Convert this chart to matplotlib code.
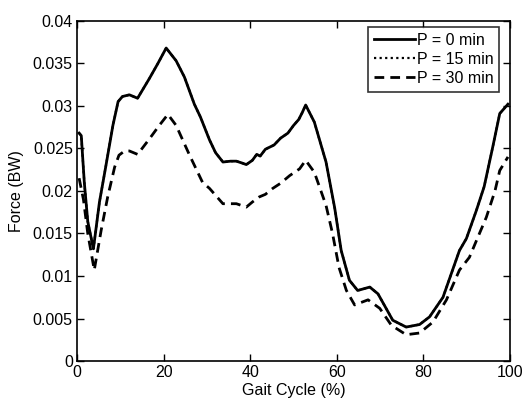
import matplotlib
matplotlib.use("Agg")
import matplotlib.pyplot as plt

plt.rcParams['font.family'] = ['Liberation Sans', 'DejaVu Sans']

# Gait cycle (%) sample points and force (BW) for each pause duration
gait_0 = [0.5, 1.0, 1.7, 2.5, 3.8, 5.2, 6.7, 8.3, 9.5, 10.5, 12.1, 14.0, 16.7,
          18.7, 20.6, 22.9, 24.8, 27.1, 28.5, 30.6, 32.0, 33.7, 35.5, 36.8,
          38.0, 39.1, 40.5, 41.5, 42.3, 43.5, 45.5, 47.0, 48.7, 50.0, 51.2,
          52.0, 52.8, 54.8, 57.5, 59.5, 61.0, 62.9, 64.8, 67.6, 69.5, 72.9,
          76.0, 79.1, 81.4, 84.5, 88.3, 89.9, 92.2, 94.0, 96.0, 97.6, 99.5]
force_0 = [0.0268, 0.0265, 0.0210, 0.0164, 0.0132, 0.0187, 0.0230, 0.0277,
           0.0305, 0.0311, 0.0313, 0.0309, 0.0332, 0.0350, 0.0368, 0.0353,
           0.0334, 0.0302, 0.0287, 0.0260, 0.0245, 0.0234, 0.0235, 0.0235,
           0.0233, 0.0231, 0.0236, 0.0243, 0.0241, 0.0249, 0.0254, 0.0262,
           0.0268, 0.0277, 0.0284, 0.0292, 0.0301, 0.0281, 0.0234, 0.0180,
           0.0130, 0.0095, 0.0083, 0.0087, 0.0079, 0.0048, 0.0040, 0.0043,
           0.0052, 0.0075, 0.0130, 0.0144, 0.0177, 0.0205, 0.0252, 0.0291,
           0.0302]

gait_15 = gait_0
force_15 = [0.0268, 0.0265, 0.0210, 0.0164, 0.0132, 0.0187, 0.0230, 0.0277,
            0.0305, 0.0311, 0.0313, 0.0309, 0.0332, 0.0350, 0.0368, 0.0353,
            0.0334, 0.0302, 0.0287, 0.0260, 0.0245, 0.0234, 0.0235, 0.0235,
            0.0233, 0.0231, 0.0236, 0.0243, 0.0241, 0.0249, 0.0254, 0.0262,
            0.0268, 0.0277, 0.0284, 0.0292, 0.0301, 0.0281, 0.0234, 0.0180,
            0.0130, 0.0095, 0.0083, 0.0087, 0.0079, 0.0048, 0.0040, 0.0043,
            0.0052, 0.0075, 0.0130, 0.0144, 0.0177, 0.0205, 0.0252, 0.0291,
            0.0302]

gait_30 = [0.5, 1.5, 2.5, 4.0, 5.6, 7.1, 8.7, 9.7, 11.0, 12.1, 14.0, 16.7,
           19.0, 21.0, 22.9, 26.0, 29.0, 30.6, 33.7, 36.8, 39.1, 40.5, 42.1,
           43.5, 45.2, 47.0, 49.1, 51.4, 52.8, 54.8, 57.5, 59.0, 60.5, 62.2,
           64.1, 67.2, 69.9, 72.6, 76.0, 79.1, 82.2, 85.3, 88.3, 90.6, 92.5,
           94.5, 96.5, 97.6, 99.5]
force_30 = [0.0215, 0.0190, 0.0150, 0.0107, 0.0154, 0.0193, 0.0228, 0.0242,
            0.0247, 0.0247, 0.0243, 0.0261, 0.0277, 0.0290, 0.0277, 0.0242,
            0.0210, 0.0203, 0.0185, 0.0185, 0.0181, 0.0187, 0.0193, 0.0196,
            0.0203, 0.0209, 0.0218, 0.0226, 0.0236, 0.0222, 0.0183, 0.0150,
            0.0110, 0.0083, 0.0066, 0.0072, 0.0062, 0.0042, 0.0031, 0.0033,
            0.0046, 0.0072, 0.0107, 0.0122, 0.0145, 0.0169, 0.0200, 0.0224,
            0.0240]

labels = ["P = 0 min", "P = 15 min", "P = 30 min"]
x_ticks = [0, 20, 40, 60, 80, 100]
y_ticks = [0, 0.005, 0.01, 0.015, 0.02, 0.025, 0.03, 0.035, 0.04]
y_tick_labels = ["0", "0.005", "0.01", "0.015", "0.02", "0.025", "0.03",
                 "0.035", "0.04"]

fig = plt.figure(figsize=(5.27, 4.08), dpi=100)
ax = fig.add_axes([0.146, 0.115, 0.822, 0.834])

l15, = ax.plot(gait_15, force_15, color='black', lw=1.6, linestyle=(0, (1, 1.5)),
               label=labels[1], zorder=2)
l0, = ax.plot(gait_0, force_0, color='black', lw=2.0, linestyle='-',
              label=labels[0], zorder=3)
l30, = ax.plot(gait_30, force_30, color='black', lw=2.0, linestyle=(0, (3.5, 2.2)),
               label=labels[2], zorder=3)

ax.set_xlim(0, 100)
ax.set_ylim(0, 0.04)
ax.set_xticks(x_ticks)
ax.set_yticks(y_ticks)
ax.set_yticklabels(y_tick_labels)
ax.tick_params(direction='in', length=5, width=1, top=True, right=True,
               labelsize=11.5, pad=3)
for s in ax.spines.values():
    s.set_linewidth(1.2)

ax.set_xlabel("Gait Cycle (%)", fontsize=11.5, labelpad=2)
ax.set_ylabel("Force (BW)", fontsize=11.5, labelpad=6)

leg = ax.legend([l0, l15, l30], labels, loc='upper right',
                bbox_to_anchor=(0.982, 0.99), fontsize=11.5, frameon=True,
                fancybox=False, handlelength=2.6, handletextpad=0.1,
                labelspacing=0.25, borderpad=0.35, borderaxespad=0.2)
leg.get_frame().set_edgecolor('black')
leg.get_frame().set_linewidth(1.2)

fig.savefig("out.png", dpi=100, facecolor='white')
